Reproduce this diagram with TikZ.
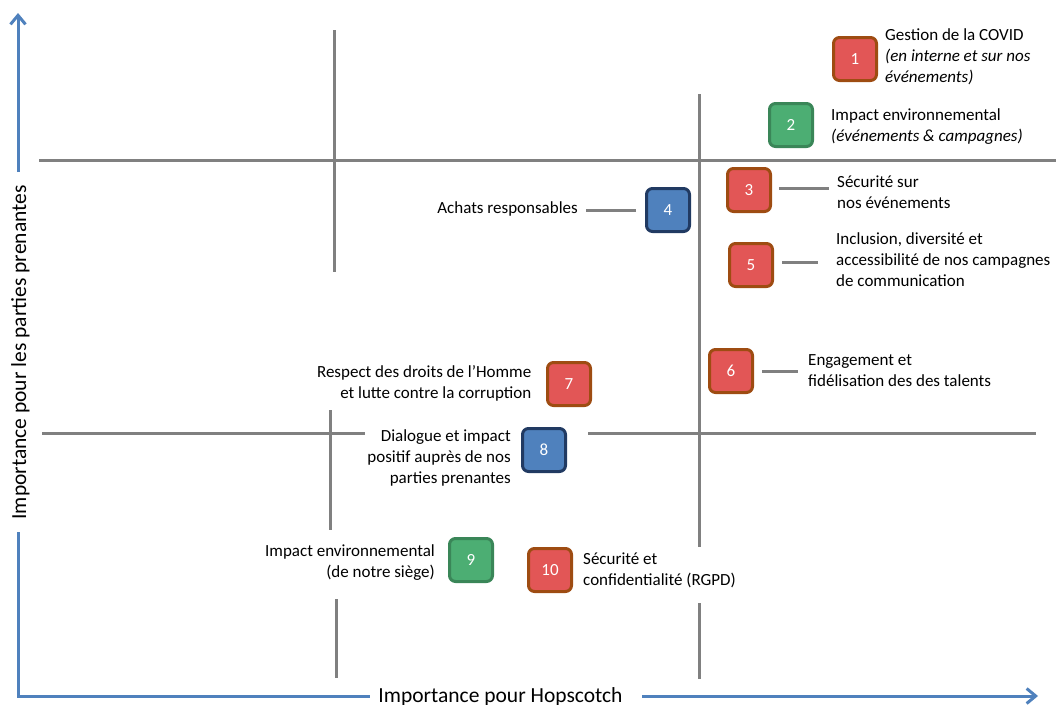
\documentclass[tikz,border=0pt]{standalone}
\usepackage{fontspec}
\setmainfont{Carlito}
\usetikzlibrary{arrows.meta}
\definecolor{axisblue}{RGB}{79,129,189}
\definecolor{linegray}{RGB}{128,128,128}
\definecolor{redfill}{RGB}{226,86,86}
\definecolor{redline}{RGB}{158,76,18}
\definecolor{greenfill}{RGB}{76,174,115}
\definecolor{greenline}{RGB}{58,134,88}
\definecolor{bluefill}{RGB}{79,129,189}
\definecolor{blueline}{RGB}{33,58,98}
\begin{document}
\begin{tikzpicture}[x=1pt,y=-1pt,
  gridline/.style={draw=linegray, line width=3pt},
  conn/.style={draw=linegray, line width=3pt},
  axisline/.style={draw=axisblue, line width=3pt},
  axisarrow/.style={axisline, -{Straight Barb[length=9pt,width=15pt]}},
  numbox/.style={rounded corners=6pt, line width=3pt, minimum size=43pt, inner sep=0pt, text=white, font=\fontsize{17}{17}\selectfont},
  redbox/.style={numbox, fill=redfill, draw=redline},
  greenbox/.style={numbox, fill=greenfill, draw=greenline},
  bluebox/.style={numbox, fill=bluefill, draw=blueline},
  lbl/.style={inner sep=0pt, font=\fontsize{17}{21}\selectfont},
  axislbl/.style={inner sep=0pt, font=\fontsize{21.5}{24}\selectfont}
]
\useasboundingbox (0,0) rectangle (1056,704);

% quadrant grid lines
\draw[gridline] (39,160) -- (1056,160);
\draw[gridline] (334,30) -- (334,272);
\draw[gridline] (699,94) -- (699,547);
\draw[gridline] (699,603) -- (699,679);
\draw[gridline] (42,433) -- (365,433);
\draw[gridline] (588,433) -- (1036,433);
\draw[gridline] (330,410) -- (330,530);
\draw[gridline] (336,599) -- (336,678);

% axes
\coordinate (O) at (18,696);
\coordinate (Ylo) at (18,532);
\coordinate (Yhi) at (18,172);
\coordinate (Ytop) at (18,13);
\coordinate (Xlo) at (370,696);
\coordinate (Xhi) at (642,696);
\coordinate (Xend) at (1038,696);
\draw[axisline] (Ylo) -- (O) -- (Xlo);
\draw[axisarrow] (Yhi) -- (Ytop);
\draw[axisarrow] (Xhi) -- (Xend);
\node[axislbl, anchor=base] (xlab) at (500.5,702) {Importance pour Hopscotch};
\node[axislbl, anchor=base, rotate=90] (ylab) at (26,352.5) {Importance pour les parties prenantes};

% boxes
\node[redbox] (b1) at (855,59) {1};
\node[greenbox] (b2) at (791,125) {2};
\node[redbox] (b3) at (749,190) {3};
\node[bluebox] (b4) at (668,210) {4};
\node[redbox] (b5) at (751,265) {5};
\node[redbox] (b6) at (731,371) {6};
\node[redbox] (b7) at (569,384) {7};
\node[bluebox] (b8) at (544,450) {8};
\node[greenbox] (b9) at (471,560) {9};
\node[redbox] (b10) at (550,570) {10};

% labels
\node[lbl, anchor=west, align=left] (t1) at (885,57) {Gestion de la COVID\\\textit{(en interne et sur nos}\\\textit{événements)}};
\node[lbl, anchor=west, align=left] (t2) at (831,126.5) {Impact environnemental\\\textit{(événements \& campagnes)}};
\node[lbl, anchor=west, align=left] (t3) at (837,192) {Sécurité sur\\nos événements};
\node[lbl, anchor=east, align=right] (t4) at (578,209) {Achats responsables};
\node[lbl, anchor=west, align=left] (t5) at (836,260) {Inclusion, diversité et\\accessibilité de nos campagnes\\de communication};
\node[lbl, anchor=west, align=left] (t6) at (808,371) {Engagement et\\fidélisation des des talents};
\node[lbl, anchor=east, align=right] (t7) at (531.5,383) {Respect des droits de l’Homme\\et lutte contre la corruption};
\node[lbl, anchor=east, align=right] (t8) at (511,458) {Dialogue et impact\\positif auprès de nos\\parties prenantes};
\node[lbl, anchor=east, align=right] (t9) at (435,562.5) {Impact environnemental\\(de notre siège)};
\node[lbl, anchor=west, align=left] (t10) at (583,570) {Sécurité et\\confidentialité (RGPD)};

% connectors
\draw[conn, shorten <=7pt, shorten >=8pt] (b3.east |- 0,188) -- (t3.west |- 0,188);
\draw[conn, shorten <=9pt, shorten >=8pt] (b4.west) -- (t4.east |- b4.west);
\draw[conn, shorten <=8pt, shorten >=18pt] (b5.east |- 0,262) -- (t5.west |- 0,262);
\draw[conn, shorten <=8pt, shorten >=10pt] (b6.east) -- (t6.west |- b6.east);
\end{tikzpicture}
\end{document}
